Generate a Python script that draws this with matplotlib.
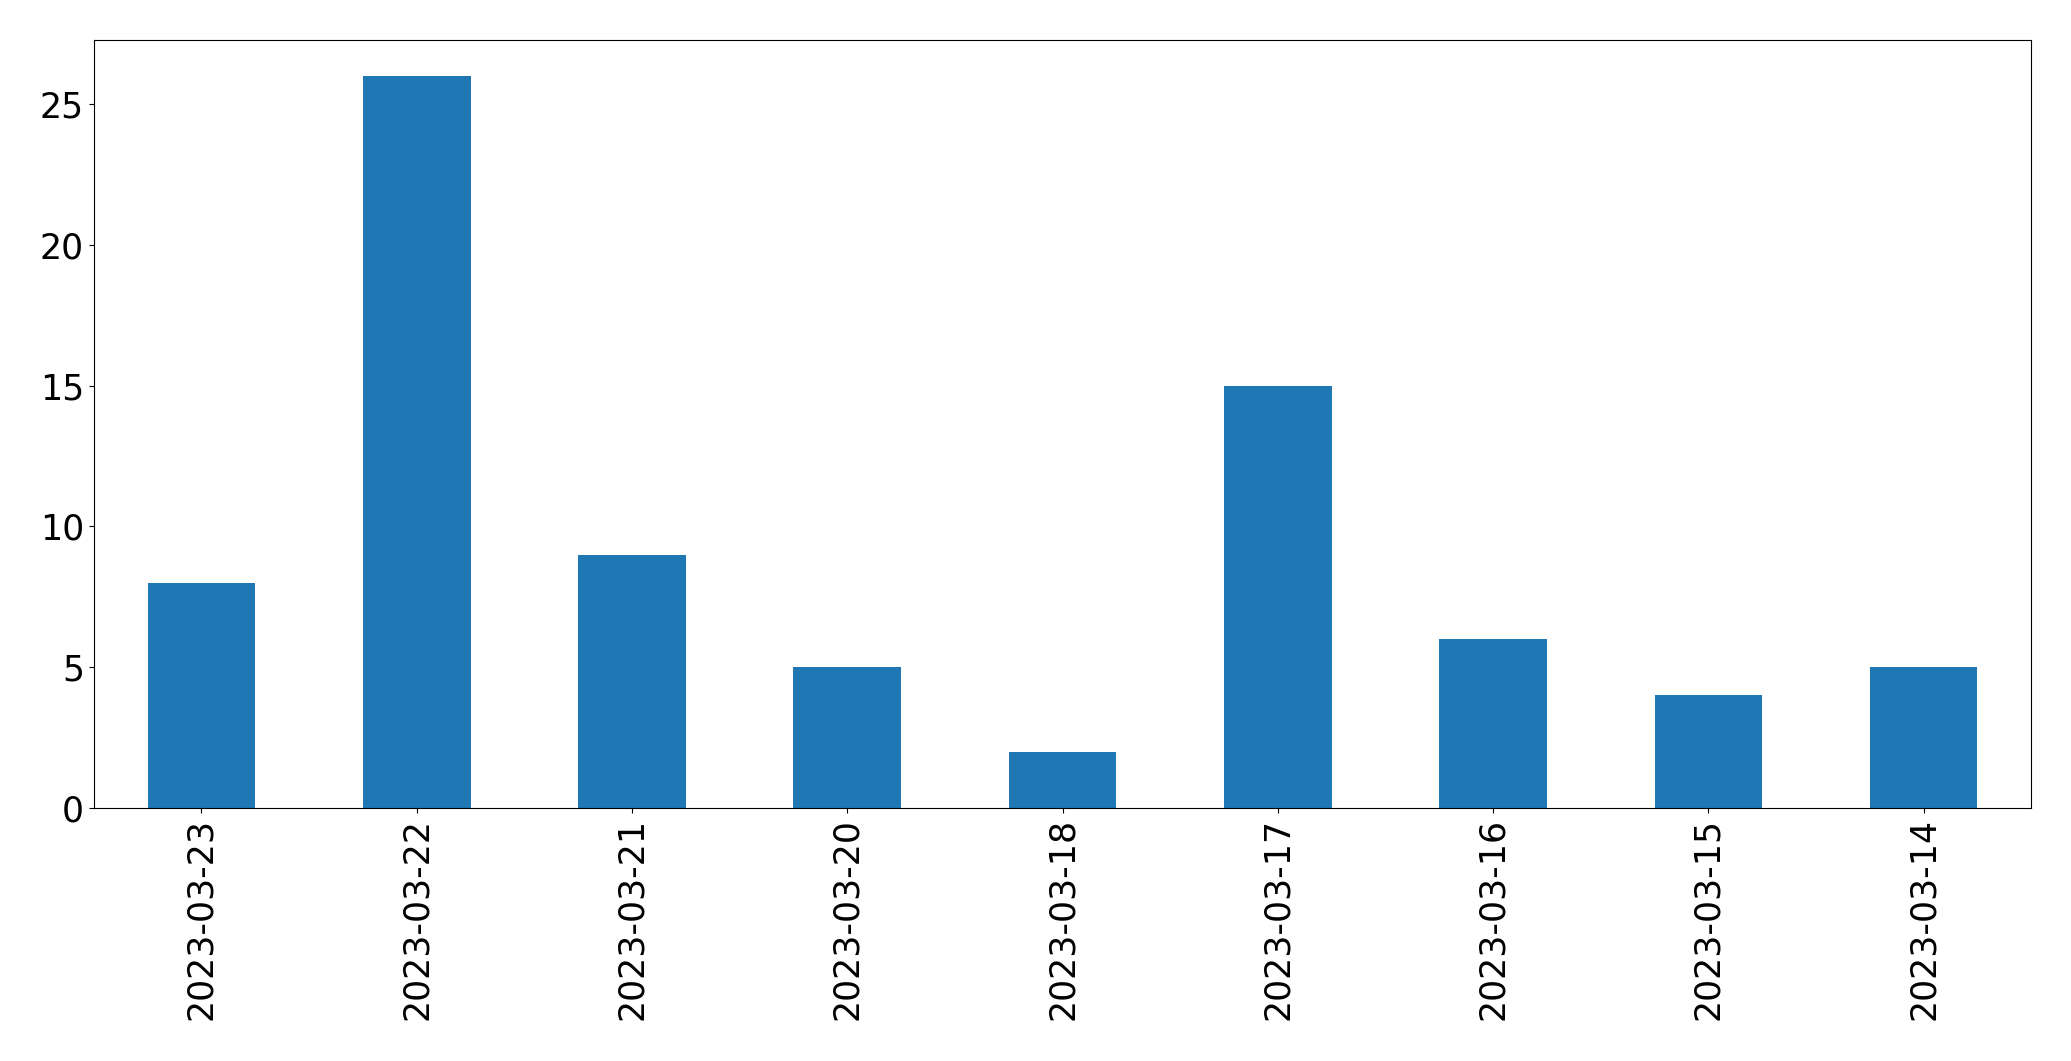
"""
Bar chart of daily counts
"""
import matplotlib

matplotlib.use("Agg")
import matplotlib.pyplot as plt  # noqa:E402

dates = [
    "2023-03-23",
    "2023-03-22",
    "2023-03-21",
    "2023-03-20",
    "2023-03-18",
    "2023-03-17",
    "2023-03-16",
    "2023-03-15",
    "2023-03-14",
]
counts = [8, 26, 9, 5, 2, 15, 6, 4, 5]


def main():
    fig = plt.figure(figsize=(20.71, 10.61), dpi=100)
    ax = fig.add_axes([0.0453, 0.2385, 0.9355, 0.7242])

    ax.bar(range(len(dates)), counts, width=0.5, color="#1f77b4")
    ax.set_xlim(-0.5, len(dates) - 0.5)
    ax.set_xticks(range(len(dates)))
    ax.set_xticklabels(dates, rotation=90)
    ax.tick_params(labelsize=25)

    fig.savefig("out.png", dpi=100)
    plt.close(fig)


if __name__ == "__main__":
    main()
